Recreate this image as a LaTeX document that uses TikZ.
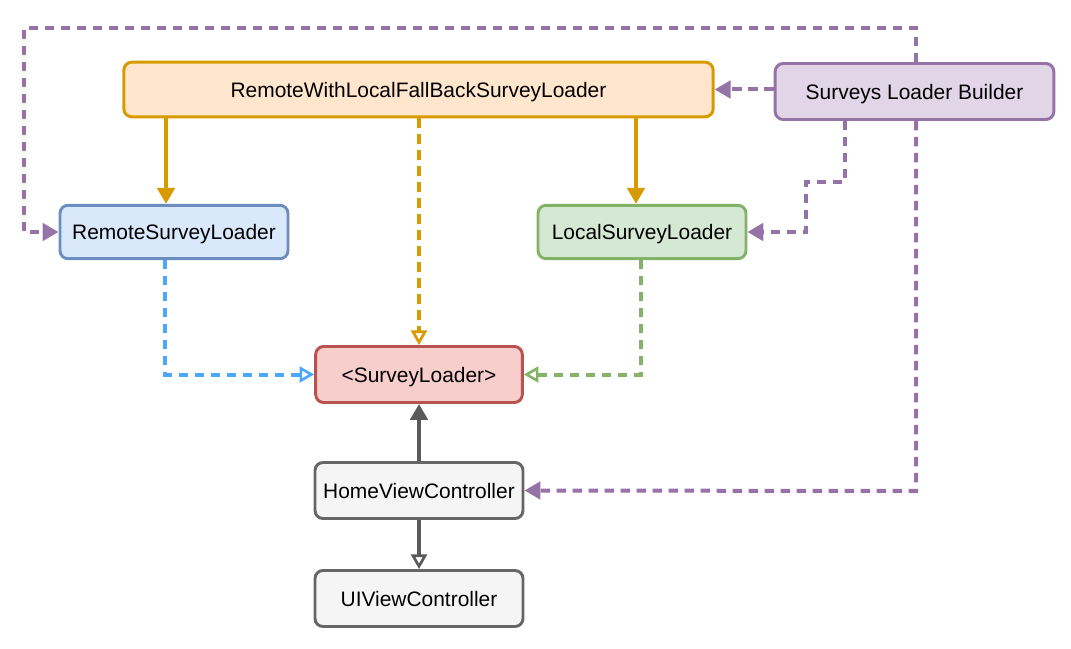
\documentclass[tikz,border=0pt]{standalone}
\usepackage{fontspec}
\setmainfont{Liberation Sans}
\usetikzlibrary{arrows.meta}
\definecolor{orS}{HTML}{D79B00}\definecolor{orF}{HTML}{FFE6CC}
\definecolor{puS}{HTML}{9673A6}\definecolor{puF}{HTML}{E1D5E7}
\definecolor{blS}{HTML}{6C8EBF}\definecolor{blF}{HTML}{DAE8FC}
\definecolor{grS}{HTML}{82B366}\definecolor{grF}{HTML}{D5E8D4}
\definecolor{reS}{HTML}{B85450}\definecolor{reF}{HTML}{F8CECC}
\definecolor{gyS}{HTML}{666666}\definecolor{gyF}{HTML}{F5F5F5}
\definecolor{blA}{HTML}{4DA6FF}\definecolor{gyA}{HTML}{5A5A5A}
\tikzset{
  box/.style={draw, rounded corners=6pt, line width=2.2pt, inner sep=0pt,
    font=\fontsize{15.7pt}{18pt}\selectfont, text=black, text height=12pt, text depth=0.7pt},
  myline/.style={line width=3pt},
  mydash/.style={line width=3pt, dash pattern=on 7pt off 5pt},
  filltip/.style={-{Triangle[length=12pt,width=13pt]}},
  opentip/.style={-{Triangle[open,length=11pt,width=12pt,line width=2pt]}},
}
\begin{document}
\begin{tikzpicture}[x=0.75pt,y=-0.75pt]
\useasboundingbox (0,0) rectangle (1071,649);
\node[box, draw=orS, fill=orF, minimum width=442pt, minimum height=41pt] (RW) at (418.5,89.5) {RemoteWithLocalFallBackSurveyLoader};
\node[box, draw=puS, fill=puF, minimum width=209pt, minimum height=42pt] (SB) at (914.5,91.5) {Surveys Loader Builder};
\node[box, draw=blS, fill=blF, minimum width=171pt, minimum height=40pt] (RS) at (174,232) {RemoteSurveyLoader};
\node[box, draw=grS, fill=grF, minimum width=156pt, minimum height=40pt] (LS) at (642,232) {LocalSurveyLoader};
\node[box, draw=reS, fill=reF, minimum width=155pt, minimum height=42pt] (SL) at (419,374.5) {<SurveyLoader>};
\node[box, draw=gyS, fill=gyF, minimum width=156pt, minimum height=42pt] (HV) at (419,490.5) {HomeViewController};
\node[box, draw=gyS, fill=gyF, minimum width=156pt, minimum height=42pt] (UI) at (419,598.5) {UIViewController};
\coordinate (p1) at (916,28);
\coordinate (p2) at (24,28);
\coordinate (q1) at (845,182);
\coordinate (q2) at (806,182);
\coordinate (r1) at (916,491);
\coordinate (o1) at (166,0);
\coordinate (o2) at (636,0);
\coordinate (o3) at (419,0);
\coordinate (b1) at (165,0);
\coordinate (g1) at (641,0);
% orange
\draw[draw=orS, myline, filltip] (RW.south -| o1) -- (RS.north -| o1);
\draw[draw=orS, myline, filltip] (RW.south -| o2) -- (LS.north -| o2);
\draw[draw=orS, mydash, opentip] (RW.south -| o3) -- (SL.north -| o3);
% implementations
\draw[draw=blA, mydash, opentip] (RS.south -| b1) |- (SL.west);
\draw[draw=grS, mydash, opentip] (LS.south -| g1) |- (SL.east);
% gray
\draw[draw=gyA, myline, filltip] (HV.north) -- (SL.south);
\draw[draw=gyA, myline, opentip] (HV.south) -- (UI.north);
% purple
\draw[draw=puS, mydash, filltip] (SB.west |- RW.east) -- (RW.east);
\draw[draw=puS, mydash, filltip] (SB.north -| p1) -- (p1) -- (p2) |- (RS.west);
\draw[draw=puS, mydash, filltip] (SB.south -| q1) -- (q1) -- (q2) |- (LS.east);
\draw[draw=puS, mydash, filltip] (SB.south -| r1) -- (r1) -- (HV.east);
\end{tikzpicture}
\end{document}
